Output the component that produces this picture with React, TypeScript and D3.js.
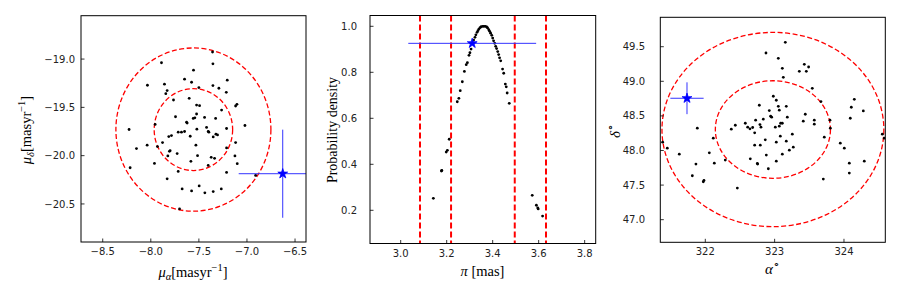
import React from 'react';
import * as d3 from 'd3';

// proper motion members (panel 1)
const pmRa = [-7.358, -7.889, -7.354, -7.556, -8.035, -7.649, -7.576, -7.858, -7.205, -7.354, -7.5, -7.292, -7.83, -7.844, -7.215, -7.764, -7.264, -7.104, -7.118, -7.601, -7.524, -7.493, -7.955, -7.743, -7.524, -7.559, -7.542, -7.441, -7.326, -7.628, -7.622, -8.226, -7.021, -7.212, -7.521, -7.715, -7.681, -7.649, -7.42, -7.403, -7.396, -7.323, -7.306, -7.351, -7.785, -7.813, -7.878, -8.038, -7.931, -8.149, -7.59, -7.531, -7.118, -7.212, -7.799, -7.806, -7.823, -7.726, -7.514, -7.372, -7.337, -7.125, -7.962, -8.215, -7.583, -7.403, -7.101, -7.715, -7.212, -6.91, -7.83, -7.497, -7.674, -7.576, -7.438, -7.351, -7.267, -7.701];
const pmDec = [-18.927, -19.038, -19.049, -19.115, -19.271, -19.208, -19.24, -19.26, -19.219, -19.274, -19.295, -19.302, -19.326, -19.358, -19.344, -19.424, -19.528, -19.469, -19.486, -19.406, -19.476, -19.483, -19.677, -19.597, -19.569, -19.615, -19.608, -19.604, -19.615, -19.653, -19.663, -19.729, -19.688, -19.719, -19.726, -19.757, -19.757, -19.75, -19.708, -19.75, -19.757, -19.778, -19.785, -19.806, -19.792, -19.802, -19.865, -19.892, -19.906, -19.927, -19.799, -19.892, -19.865, -19.92, -19.948, -19.955, -20.003, -19.979, -20.0, -20.017, -20.028, -20.003, -20.08, -20.125, -20.059, -20.101, -20.083, -20.163, -20.174, -20.205, -20.24, -20.313, -20.344, -20.365, -20.385, -20.372, -20.344, -20.552];
const pmCenter = [-7.557, -19.73];
const pmInner = [0.408, 0.424];
const pmOuter = [0.806, 0.845];
const pmStar = [-6.628, -20.187];
const pmStarErr = [0.458, 0.456];

// parallax density (panel 2)
const plx = [3.142, 3.177, 3.179, 3.198, 3.203, 3.211, 3.246, 3.253, 3.259, 3.268, 3.277, 3.285, 3.29, 3.297, 3.301, 3.306, 3.317, 3.323, 3.327, 3.332, 3.336, 3.34, 3.345, 3.35, 3.357, 3.362, 3.368, 3.374, 3.378, 3.383, 3.387, 3.391, 3.396, 3.4, 3.404, 3.409, 3.413, 3.417, 3.422, 3.426, 3.43, 3.435, 3.443, 3.448, 3.455, 3.459, 3.463, 3.472, 3.572, 3.59, 3.596, 3.598, 3.617];
const plxDens = [0.252, 0.371, 0.373, 0.453, 0.461, 0.509, 0.672, 0.687, 0.72, 0.759, 0.804, 0.833, 0.842, 0.874, 0.885, 0.901, 0.94, 0.952, 0.963, 0.974, 0.981, 0.988, 0.994, 0.998, 1.0, 1.0, 1.0, 0.997, 0.993, 0.985, 0.978, 0.97, 0.961, 0.949, 0.937, 0.926, 0.913, 0.903, 0.89, 0.877, 0.863, 0.85, 0.814, 0.796, 0.749, 0.737, 0.71, 0.665, 0.265, 0.222, 0.21, 0.206, 0.175];
const plxLines = [3.084, 3.219, 3.496, 3.632];
const plxStar = [3.311, 0.926];
const plxStarErr = 0.278;

// sky positions (panel 3)
const raDeg = [323.154, 322.875, 323.053, 323.111, 323.125, 323.428, 323.49, 323.356, 323.457, 323.543, 323.668, 324.149, 324.106, 324.279, 324.091, 322.981, 323.024, 323.053, 323.168, 323.067, 322.923, 322.779, 322.942, 322.957, 323.183, 323.442, 323.413, 323.572, 323.572, 323.798, 323.803, 323.716, 323.111, 323.087, 323.01, 323.067, 323.082, 323.255, 323.024, 323.168, 323.269, 323.212, 323.111, 323.024, 323.947, 324.005, 324.077, 324.077, 324.293, 324.553, 324.582, 323.702, 322.577, 322.611, 322.644, 322.683, 322.726, 322.788, 322.803, 322.837, 322.712, 322.865, 322.712, 322.793, 322.88, 322.649, 322.75, 322.755, 322.909, 322.375, 322.433, 321.885, 321.385, 321.452, 321.625, 322.115, 322.058, 322.13, 322.288, 321.865, 321.813, 321.981, 321.971, 322.462];
const decDeg = [49.563, 49.409, 49.332, 49.188, 49.058, 49.245, 49.207, 49.144, 49.144, 48.899, 48.707, 48.74, 48.625, 48.572, 48.466, 48.784, 48.726, 48.639, 48.639, 48.582, 48.577, 48.654, 48.495, 48.481, 48.481, 48.524, 48.423, 48.438, 48.38, 48.438, 48.322, 48.192, 48.394, 48.394, 48.337, 48.351, 48.207, 48.236, 48.12, 48.135, 48.048, 48.005, 47.947, 47.846, 48.106, 48.034, 47.817, 47.673, 47.846, 48.236, 48.178, 47.587, 48.394, 48.337, 48.313, 48.332, 48.438, 48.375, 48.337, 48.452, 48.255, 48.154, 48.077, 48.077, 47.933, 47.88, 47.813, 47.803, 47.736, 48.308, 48.365, 48.322, 48.12, 48.034, 47.947, 48.178, 47.966, 47.817, 47.861, 47.803, 47.635, 47.567, 47.548, 47.457];
const skyCenter = [322.975, 48.303];
const skyInner = [0.83, 0.705];
const skyOuter = [1.6, 1.404];
const skyStar = [321.736, 48.755];
const skyStarErr = [0.24, 0.23];

const ticks1x = [-8.5, -8.0, -7.5, -7.0, -6.5];
const ticks1y = [-19.0, -19.5, -20.0, -20.5];
const ticks2x = [3.0, 3.2, 3.4, 3.6, 3.8];
const ticks2y = [0.2, 0.4, 0.6, 0.8, 1.0];
const ticks3x = [322, 323, 324];
const ticks3y = [47.0, 47.5, 48.0, 48.5, 49.0, 49.5];

const f1 = d3.format('.1f');
const fInt = d3.format('d');
const tickFont = 'DejaVu Sans, sans-serif';
const serif = 'Liberation Serif, Times New Roman, serif';
const starPath = d3.symbol().type(d3.symbolStar).size(30)();

function Axes({ id, box, x, y, xt, yt, xf, yf, ylabX, children }) {
  return (
    <g>
      <defs>
        <clipPath id={id}>
          <rect x={box.l} y={box.t} width={box.r - box.l} height={box.b - box.t} />
        </clipPath>
      </defs>
      <g clipPath={`url(#${id})`}>{children}</g>
      <rect x={box.l} y={box.t} width={box.r - box.l} height={box.b - box.t} fill="none" stroke="#000" strokeWidth={1} />
      {xt.map((v) => (
        <g key={'x' + v}>
          <line x1={x(v)} x2={x(v)} y1={box.b} y2={box.b - 3.5} stroke="#000" strokeWidth={0.8} />
          <text x={x(v)} y={box.b + 13} textAnchor="middle" fontFamily={tickFont} fontSize={10} fill="#222">{xf(v)}</text>
        </g>
      ))}
      {yt.map((v) => (
        <g key={'y' + v}>
          <line x1={box.l} x2={box.l + 3.5} y1={y(v)} y2={y(v)} stroke="#000" strokeWidth={0.8} />
          <text x={ylabX} y={y(v) + 3.6} textAnchor="end" fontFamily={tickFont} fontSize={10} fill="#222">{yf(v)}</text>
        </g>
      ))}
    </g>
  );
}

function Dots({ xs, ys, x, y }) {
  return (
    <g>
      {xs.map((v, i) => (
        <circle key={i} cx={x(v)} cy={y(ys[i])} r={1.4} fill="#000" />
      ))}
    </g>
  );
}

function Star({ cx, cy, ex, ey }) {
  return (
    <g>
      <line x1={ex[0]} x2={ex[1]} y1={cy} y2={cy} stroke="#3333ff" strokeWidth={1} />
      {ey && <line x1={cx} x2={cx} y1={ey[0]} y2={ey[1]} stroke="#3333ff" strokeWidth={1} />}
      <path d={starPath} transform={`translate(${cx},${cy})`} fill="#0000ff" stroke="#0000ff" strokeWidth={0.8} />
    </g>
  );
}

export default function App() {
  // panel 1
  const b1 = { l: 81, r: 306, t: 15.7, b: 242 };
  const x1 = d3.scaleLinear().domain([-8.726, -6.386]).range([b1.l, b1.r]);
  const y1 = d3.scaleLinear().domain([-20.894, -18.551]).range([b1.b, b1.t]);
  // panel 2
  const b2 = { l: 370, r: 595.7, t: 15.5, b: 243.5 };
  const x2 = d3.scaleLinear().domain([2.8665, 3.848]).range([b2.l, b2.r]);
  const y2 = d3.scaleLinear().domain([0.0557, 1.047]).range([b2.b, b2.t]);
  // panel 3
  const b3 = { l: 660.3, r: 885.3, t: 17.3, b: 242.3 };
  const x3 = d3.scaleLinear().domain([321.351, 324.596]).range([b3.l, b3.r]);
  const y3 = d3.scaleLinear().domain([46.673, 49.925]).range([b3.b, b3.t]);

  const ell = (x, y, c, r, key) => (
    <ellipse key={key} cx={x(c[0])} cy={y(c[1])} rx={Math.abs(x(c[0] + r[0]) - x(c[0]))} ry={Math.abs(y(c[1] + r[1]) - y(c[1]))}
      fill="none" stroke="#ff0000" strokeWidth={1.3} strokeDasharray="5,2.5" />
  );

  return (
    <svg width={900} height={296} style={{ position: 'absolute', left: 0, top: 0, background: '#fff' }}>
      <Axes id="c1" box={b1} x={x1} y={y1} xt={ticks1x} yt={ticks1y} xf={f1} yf={f1} ylabX={75}>
        {ell(x1, y1, pmCenter, pmOuter, 'o')}
        {ell(x1, y1, pmCenter, pmInner, 'i')}
        <Dots xs={pmRa} ys={pmDec} x={x1} y={y1} />
        <Star cx={x1(pmStar[0])} cy={y1(pmStar[1])}
          ex={[x1(pmStar[0] - pmStarErr[0]), x1(pmStar[0] + pmStarErr[0])]}
          ey={[y1(pmStar[1] + pmStarErr[1]), y1(pmStar[1] - pmStarErr[1])]} />
      </Axes>
      <Axes id="c2" box={b2} x={x2} y={y2} xt={ticks2x} yt={ticks2y} xf={f1} yf={f1} ylabX={357}>
        {plxLines.map((v) => (
          <line key={v} x1={x2(v)} x2={x2(v)} y1={b2.t} y2={b2.b} stroke="#ff0000" strokeWidth={2} strokeDasharray="6,3" />
        ))}
        <Dots xs={plx} ys={plxDens} x={x2} y={y2} />
        <Star cx={x2(plxStar[0])} cy={y2(plxStar[1])}
          ex={[x2(plxStar[0] - plxStarErr), x2(plxStar[0] + plxStarErr)]} />
      </Axes>
      <Axes id="c3" box={b3} x={x3} y={y3} xt={ticks3x} yt={ticks3y} xf={fInt} yf={f1} ylabX={645}>
        {ell(x3, y3, skyCenter, skyOuter, 'o')}
        {ell(x3, y3, skyCenter, skyInner, 'i')}
        <Dots xs={raDeg} ys={decDeg} x={x3} y={y3} />
        <Star cx={x3(skyStar[0])} cy={y3(skyStar[1])}
          ex={[x3(skyStar[0] - skyStarErr[0]), x3(skyStar[0] + skyStarErr[0])]}
          ey={[y3(skyStar[1] + skyStarErr[1]), y3(skyStar[1] - skyStarErr[1])]} />
      </Axes>

      {/* axis labels */}
      <text x={193} y={277} textAnchor="middle" fontFamily={serif} fontSize={14.5} fill="#000">
        <tspan fontStyle="italic">μ</tspan>
        <tspan fontStyle="italic" fontSize={10.5} dy={3}>α</tspan>
        <tspan dy={-3}>[masyr</tspan>
        <tspan fontSize={10.5} dy={-6}>−1</tspan>
        <tspan dy={6}>]</tspan>
      </text>
      <text transform="translate(31,130) rotate(-90)" textAnchor="middle" fontFamily={serif} fontSize={14.5} fill="#000">
        <tspan fontStyle="italic">μ</tspan>
        <tspan fontStyle="italic" fontSize={10.5} dy={3}>δ</tspan>
        <tspan dy={-3}>[masyr</tspan>
        <tspan fontSize={10.5} dy={-6}>−1</tspan>
        <tspan dy={6}>]</tspan>
      </text>
      <text x={482.5} y={276} textAnchor="middle" fontFamily={serif} fontSize={14.5} fill="#000">
        <tspan fontStyle="italic">π</tspan>
        <tspan> [mas]</tspan>
      </text>
      <text transform="translate(337,130) rotate(-90)" textAnchor="middle" fontFamily={serif} fontSize={14} fill="#000">
        Probability density
      </text>
      <text x={772.5} y={274} textAnchor="middle" fontFamily={serif} fontSize={15} fill="#000">
        <tspan fontStyle="italic">α</tspan>
        <tspan fontSize={10.5} dy={-6}>∘</tspan>
      </text>
      <text transform="translate(620,131) rotate(-90)" textAnchor="middle" fontFamily={serif} fontSize={15} fill="#000">
        <tspan fontStyle="italic">δ</tspan>
        <tspan fontSize={10.5} dy={-6}>∘</tspan>
      </text>
    </svg>
  );
}
